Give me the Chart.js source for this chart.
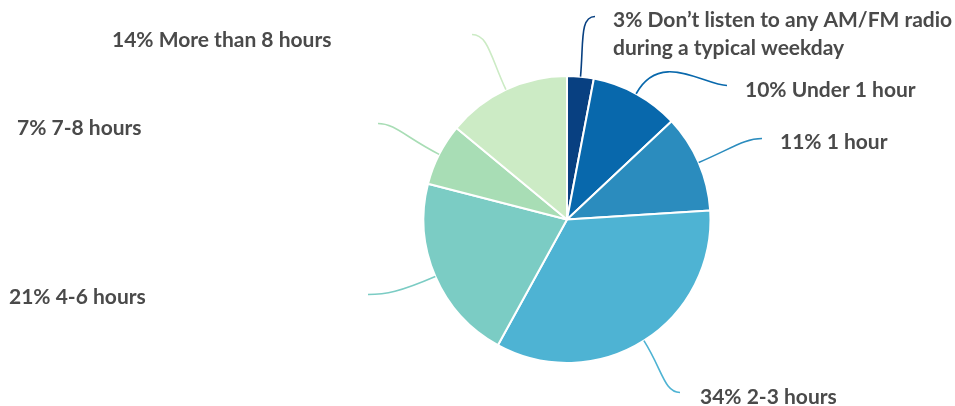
<!DOCTYPE html>
<html>
<head>
<meta charset="utf-8">
<script src="https://cdn.jsdelivr.net/npm/chart.js@4"></script>
<style>
  html, body { margin: 0; padding: 0; background: #fff; }
  #wrap { width: 955px; height: 406px; position: relative; }
</style>
</head>
<body>
<div id="wrap"><canvas id="radioChart"></canvas></div>
<script>
// weekday AM/FM listening time, share of respondents
const categories = [
  ['Don’t listen to any AM/FM radio', 'during a typical weekday'],
  ['Under 1 hour'],
  ['1 hour'],
  ['2-3 hours'],
  ['4-6 hours'],
  ['7-8 hours'],
  ['More than 8 hours']
];
const shares = [3, 10, 11, 34, 21, 7, 14];
const sliceColors = ['#084081', '#0868ac', '#2b8cbe', '#4eb3d3', '#7bccc4', '#a8ddb5', '#ccebc5'];

// label placement, offsets from the pie centre
const leaderEnds = [[28, -203], [160, -134], [195, -81], [113, 173], [-199, 75], [-189, -96], [-95, -185]];
const labelSpots = [[46, -193], [178, -123], [213, -71], [133, 184], [-558, 84], [-550, -84.5], [-455, -173]];
const lineGap = 28.3;

const calloutPlugin = {
  id: 'callouts',
  afterDraw(chart) {
    const ctx = chart.ctx;
    const arcs = chart.getDatasetMeta(0).data;
    ctx.save();
    arcs.forEach((arc, i) => {
      const p = arc.getProps(['x', 'y', 'startAngle', 'endAngle', 'outerRadius'], true);
      const mid = (p.startAngle + p.endAngle) / 2;
      const sx = p.x + Math.cos(mid) * p.outerRadius;
      const sy = p.y + Math.sin(mid) * p.outerRadius;
      const ex = p.x + leaderEnds[i][0];
      const ey = p.y + leaderEnds[i][1];
      const dir = ex > sx ? 1 : -1;
      const len = Math.hypot(ex - sx, ey - sy);

      // leader: leaves the slice radially, arrives flat at the label side
      ctx.beginPath();
      ctx.moveTo(sx, sy);
      ctx.bezierCurveTo(
        sx + Math.cos(mid) * len * 0.55, sy + Math.sin(mid) * len * 0.55,
        ex - dir * len * 0.25, ey,
        ex, ey
      );
      ctx.strokeStyle = sliceColors[i];
      ctx.lineWidth = 1.6;
      ctx.stroke();

      ctx.fillStyle = '#4a4a4a';
      ctx.font = 'bold 21px Lato, "Open Sans", sans-serif';
      ctx.textAlign = 'left';
      ctx.textBaseline = 'alphabetic';
      const lines = categories[i].slice();
      lines[0] = shares[i] + '% ' + lines[0];
      lines.forEach((t, k) => {
        ctx.fillText(t, p.x + labelSpots[i][0], p.y + labelSpots[i][1] + k * lineGap);
      });
    });
    ctx.restore();
  }
};

new Chart(document.getElementById('radioChart'), {
  type: 'pie',
  data: {
    labels: categories.map(c => c.join(' ')),
    datasets: [{
      data: shares,
      backgroundColor: sliceColors,
      borderColor: '#ffffff',
      borderWidth: 2,
      hoverOffset: 0
    }]
  },
  options: {
    responsive: true,
    maintainAspectRatio: false,
    animation: false,
    layout: { padding: { left: 422.5, right: 243.5, top: 75, bottom: 42 } },
    plugins: {
      legend: { display: false },
      tooltip: { enabled: false }
    }
  },
  plugins: [calloutPlugin]
});
</script>
</body>
</html>
